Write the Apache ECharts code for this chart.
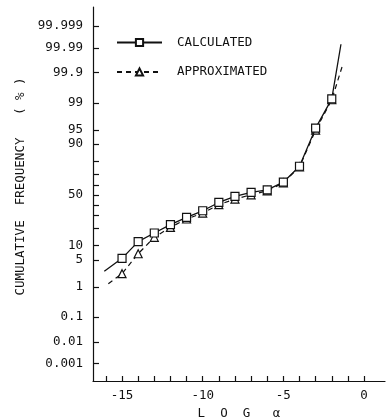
<!DOCTYPE html>
<html>
<head>
<meta charset="utf-8">
<script src="https://cdn.jsdelivr.net/npm/echarts@6/dist/echarts.min.js"></script>
<style>html,body{margin:0;padding:0;background:#fff}#c{width:387px;height:420px}</style>
</head>
<body>
<div id="c"></div>
<script>
// ---- data (cumulative frequency in %, x = log alpha) ----
const logAlpha = [-15, -14, -13, -12, -11, -10, -9, -8, -7, -6, -5, -4, -3, -2];
const calculated = [5.4, 11.8, 16.7, 22.5, 28.4, 34.3, 42.3, 48.5, 52.5, 55.0, 62.5, 76.5, 95.4, 99.24];
const approximated = [2.3, 6.8, 14.1, 20.5, 27.0, 32.2, 40.1, 45.7, 50.0, 54.0, 61.9, 76.0, 94.9, 99.19];
const calcCurveStart = [-16.1, 2.67];
const calcCurveEnd = [-1.43, 99.993];
const approxCurveStart = [-15.85, 1.23];
const approxCurveEnd = [-1.32, 99.95];
const yTickLabels = ['0.001', '0.01', '0.1', '1', '5', '10', '50', '90', '95', '99', '99.9', '99.99', '99.999'];
const yMinorTicks = [20, 30, 40, 60, 70, 80];
const xTickLabels = [-15, -10, -5, 0];
const xAllTicks = [-16, -15, -14, -13, -12, -11, -10, -9, -8, -7, -6, -5, -4, -3, -2, -1, 0];

// normal probability scale: percent -> standard normal quantile
function probit(pct) {
  const p = pct / 100;
  const a = [-3.969683028665376e+01, 2.209460984245205e+02, -2.759285104469687e+02, 1.383577518672690e+02, -3.066479806614716e+01, 2.506628277459239e+00];
  const b = [-5.447609879822406e+01, 1.615858368580409e+02, -1.556989798598866e+02, 6.680131188771972e+01, -1.328068155922803e+01];
  const c = [-7.784894002430293e-03, -3.223964580411365e-01, -2.400758277161838e+00, -2.549732539343734e+00, 4.374664141464968e+00, 2.938163982698783e+00];
  const d = [7.784695709041462e-03, 3.224671290700398e-01, 2.445134137142996e+00, 3.754408661907416e+00];
  const pl = 0.02425, ph = 1 - pl;
  let q, r;
  if (p < pl) {
    q = Math.sqrt(-2 * Math.log(p));
    return (((((c[0]*q+c[1])*q+c[2])*q+c[3])*q+c[4])*q+c[5]) / ((((d[0]*q+d[1])*q+d[2])*q+d[3])*q+1);
  }
  if (p <= ph) {
    q = p - 0.5; r = q * q;
    return (((((a[0]*r+a[1])*r+a[2])*r+a[3])*r+a[4])*r+a[5])*q / (((((b[0]*r+b[1])*r+b[2])*r+b[3])*r+b[4])*r+1);
  }
  q = Math.sqrt(-2 * Math.log(1 - p));
  return -(((((c[0]*q+c[1])*q+c[2])*q+c[3])*q+c[4])*q+c[5]) / ((((d[0]*q+d[1])*q+d[2])*q+d[3])*q+1);
}

// Axis coordinates are shifted so that each axis range starts at zero
// (the axes then sit "on zero" at the plot's left / bottom edges); labels map back.
const X_MIN = -16.8, X_MAX = 1.3, Z_MIN = -4.71, Z_MAX = 4.75;
const X_SHIFT = -X_MIN, Y_SHIFT = -Z_MIN;
const toX = x => x + X_SHIFT;
const toY = pct => probit(pct) + Y_SHIFT;

function buildSeriesData(start, xs, ys, end) {
  const out = [{ value: [toX(start[0]), toY(start[1])], symbol: 'none' }];
  xs.forEach((x, i) => out.push([toX(x), toY(ys[i])]));
  out.push({ value: [toX(end[0]), toY(end[1])], symbol: 'none' });
  return out;
}

const yLabelValues = yTickLabels.map(s => toY(parseFloat(s)));
const yTickValues = yLabelValues.concat(yMinorTicks.map(toY));

const FONT = 'DejaVu Sans Mono';
const INK = '#111';

const chart = echarts.init(document.getElementById('c'), null, { renderer: 'canvas' });
chart.setOption({
  animation: false,
  backgroundColor: '#fff',
  textStyle: { fontFamily: FONT, color: INK },
  grid: { left: 93, right: 2, top: 7, bottom: 39, outerBoundsMode: 'none', containLabel: false },
  legend: {
    orient: 'vertical',
    left: 111, top: 31,
    itemWidth: 45, itemHeight: 9, itemGap: 16.5,
    textStyle: { fontFamily: FONT, fontSize: 12.5, color: INK, padding: [0, 0, 0, 10] },
    data: ['CALCULATED', 'APPROXIMATED']
  },
  xAxis: {
    type: 'value', min: toX(X_MIN), max: toX(X_MAX),
    axisLine: { show: true, lineStyle: { color: INK, width: 1.2 } },
    axisTick: { show: true, inside: true, length: 5, customValues: xAllTicks.map(toX), lineStyle: { color: INK, width: 1.2 } },
    axisLabel: {
      customValues: xTickLabels.map(toX), margin: 8,
      fontFamily: FONT, fontSize: 12.5, color: INK,
      formatter: v => String(Math.round(v - X_SHIFT))
    },
    splitLine: { show: false },
    name: 'L  O  G   α', nameLocation: 'middle', nameGap: 24,
    nameTextStyle: { fontFamily: FONT, fontSize: 12.5, color: INK }
  },
  yAxis: {
    type: 'value', min: toY(50) + Z_MIN, max: toY(50) + Z_MAX,
    axisLine: { show: true, lineStyle: { color: INK, width: 1.2 } },
    axisTick: { show: true, inside: true, length: 6, customValues: yTickValues, lineStyle: { color: INK, width: 1.2 } },
    axisLabel: {
      customValues: yLabelValues, margin: 10,
      fontFamily: FONT, fontSize: 12.5, color: INK,
      formatter: v => {
        let best = 0, bd = Infinity;
        yLabelValues.forEach((z, i) => { const dd = Math.abs(z - v); if (dd < bd) { bd = dd; best = i; } });
        return yTickLabels[best];
      }
    },
    splitLine: { show: false },
    name: '  CUMULATIVE  FREQUENCY   ( % )', nameLocation: 'middle', nameRotate: 90, nameGap: 66,
    nameTextStyle: { fontFamily: FONT, fontSize: 12.5, color: INK }
  },
  series: [{
    name: 'APPROXIMATED', type: 'line', z: 2,
    data: buildSeriesData(approxCurveStart, logAlpha, approximated, approxCurveEnd),
    symbol: 'triangle', symbolSize: 8,
    lineStyle: { color: INK, width: 1.2, type: [5, 4] },
    itemStyle: { color: '#fff', borderColor: INK, borderWidth: 1.2 }
  }, {
    name: 'CALCULATED', type: 'line', z: 3,
    data: buildSeriesData(calcCurveStart, logAlpha, calculated, calcCurveEnd),
    symbol: 'rect', symbolSize: 8,
    lineStyle: { color: INK, width: 1.3 },
    itemStyle: { color: '#fff', borderColor: INK, borderWidth: 1.2 }
  }]
});
</script>
</body>
</html>
